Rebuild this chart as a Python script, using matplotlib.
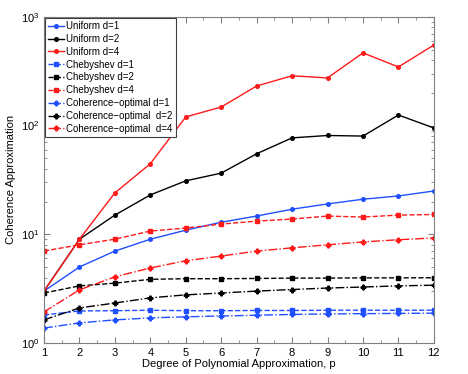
import numpy as np
import matplotlib
matplotlib.use("Agg")
import matplotlib.pyplot as plt
from matplotlib.ticker import MultipleLocator, LogLocator, NullFormatter

plt.rcParams['font.family'] = ['Liberation Sans', 'DejaVu Sans']

# ── Dữ liệu ────────────────────────────────────────────────────────────────
p = [1, 2, 3, 4, 5, 6, 7, 8, 9, 10, 11, 12]

uniform_d1 = [3.0, 5.0, 7.0, 9.0, 10.9, 12.9, 14.7, 17.0, 19.0, 21.0, 22.5, 25.0]
uniform_d2 = [3.0, 9.0, 15.0, 23.0, 31.0, 36.5, 55.0, 77.0, 81.0, 80.0, 125.0, 95.0]
uniform_d4 = [3.0, 9.0, 24.0, 44.5, 120.0, 148.0, 231.0, 287.0, 274.0, 466.0, 346.0, 550.0]

cheb_d1 = [1.81, 1.97, 1.98, 2.0, 1.98, 1.98, 1.99, 1.99, 2.0, 2.0, 2.0, 2.0]
cheb_d2 = [2.88, 3.35, 3.55, 3.85, 3.9, 3.9, 3.92, 3.95, 3.95, 3.97, 3.97, 3.98]
cheb_d4 = [7.0, 8.0, 9.0, 10.7, 11.4, 12.4, 13.2, 13.8, 14.7, 14.4, 15.0, 15.2]

coh_d1 = [1.37, 1.53, 1.63, 1.70, 1.74, 1.77, 1.80, 1.83, 1.85, 1.86, 1.87, 1.88]
coh_d2 = [1.63, 2.1, 2.33, 2.6, 2.77, 2.88, 3.0, 3.1, 3.2, 3.27, 3.35, 3.4]
coh_d4 = [1.93, 3.08, 4.06, 4.9, 5.7, 6.3, 7.0, 7.5, 8.0, 8.5, 8.9, 9.25]

BLUE, BLACK, RED = '#1f4fff', 'black', '#ff1a1a'

# ── Vẽ ─────────────────────────────────────────────────────────────────────
fig = plt.figure(figsize=(4.68, 3.74), dpi=100, facecolor='white')
ax = fig.add_axes([0.094, 0.083, 0.833, 0.872])

series = [
    (uniform_d1, BLUE,  '-',  'o', 2.6, 'Uniform d=1'),
    (uniform_d2, BLACK, '-',  'o', 2.6, 'Uniform d=2'),
    (uniform_d4, RED,   '-',  'o', 2.6, 'Uniform d=4'),
    (cheb_d1,    BLUE,  '--', 's', 2.6, 'Chebyshev d=1'),
    (cheb_d2,    BLACK, '--', 's', 2.6, 'Chebyshev d=2'),
    (cheb_d4,    RED,   '--', 's', 2.6, 'Chebyshev d=4'),
    (coh_d1,     BLUE,  '-.', 'P', 3.4, 'Coherence\u2212optimal d=1'),
    (coh_d2,     BLACK, '-.', 'P', 3.4, 'Coherence\u2212optimal  d=2'),
    (coh_d4,     RED,   '-.', 'P', 3.4, 'Coherence\u2212optimal  d=4'),
]

for ys, col, ls, mk, ms, lab in series:
    ax.semilogy(p, ys, color=col, linestyle=ls, marker=mk, markersize=ms,
                linewidth=1.0, label=lab)

ax.set_xlim(1, 12)
ax.set_ylim(1, 1000)
ax.xaxis.set_major_locator(MultipleLocator(1))
ax.xaxis.set_minor_locator(MultipleLocator(0.5))
ax.yaxis.set_major_locator(LogLocator(base=10))
ax.yaxis.set_minor_locator(LogLocator(base=10, subs=np.arange(2, 10)))
ax.yaxis.set_minor_formatter(NullFormatter())

ax.tick_params(which='both', direction='in', top=True, right=True,
               colors='#808080', labelcolor='black', labelsize=8)
ax.tick_params(which='major', length=4)
ax.tick_params(which='minor', length=2)
for spine in ax.spines.values():
    spine.set_edgecolor('#808080')

ax.set_xlabel('Degree of Polynomial Approximation, p', fontsize=8, labelpad=1)
ax.set_ylabel('Coherence Approximation', fontsize=8, labelpad=3)

leg = ax.legend(loc='upper left', fontsize=7, handlelength=1.6,
                handletextpad=0.25, borderpad=0.3, labelspacing=0.29,
                borderaxespad=0.15, fancybox=False, framealpha=1)
leg.get_frame().set_edgecolor('#404040')
leg.get_frame().set_linewidth(0.8)

fig.savefig('out.png', dpi=100, facecolor='white')
